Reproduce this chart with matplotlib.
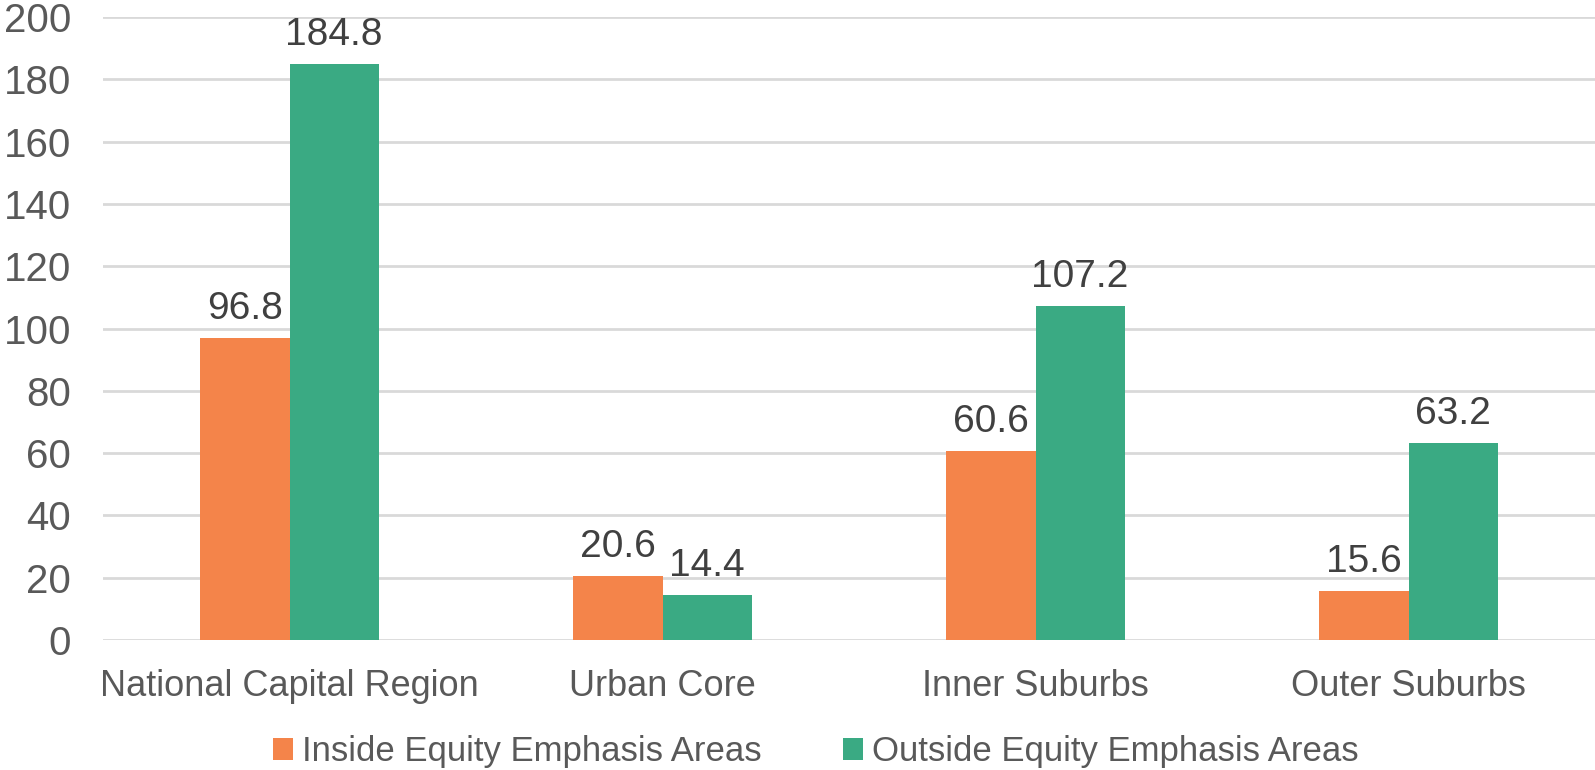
import matplotlib

matplotlib.use("Agg")
import matplotlib.pyplot as plt
import numpy as np

categories = ["National Capital Region", "Urban Core", "Inner Suburbs", "Outer Suburbs"]
inside = [96.8, 20.6, 60.6, 15.6]
outside = [184.8, 14.4, 107.2, 63.2]
series_names = ["Inside Equity Emphasis Areas", "Outside Equity Emphasis Areas"]

ORANGE = "#F4844A"
GREEN = "#3AAA83"
TICK = "#595959"
LABEL = "#404040"
GRID = "#D9D9D9"

FONT = ["Liberation Sans", "DejaVu Sans"]
plt.rcParams["font.family"] = FONT

fig = plt.figure(figsize=(15.95, 7.7), dpi=100)
ax = fig.add_axes((103 / 1595, 1 - 640 / 770, 1 - 103 / 1595, (640 - 17) / 770))

x = np.arange(len(categories))
w = 0.239
b1 = ax.bar(x - w / 2, inside, w, color=ORANGE, label=series_names[0], zorder=3)
b2 = ax.bar(x + w / 2, outside, w, color=GREEN, label=series_names[1], zorder=3)

for bars, vals in ((b1, inside), (b2, outside)):
    for r, v in zip(bars, vals):
        ax.annotate(f"{v:.1f}", xy=(r.get_x() + r.get_width() / 2, v),
                    xytext=(0, 8), textcoords="offset points",
                    ha="center", va="bottom", fontsize=28, color=LABEL)

ax.set_xlim(-0.5, len(categories) - 0.5)
ax.set_ylim(0, 200)
ax.set_yticks(range(0, 201, 20))
ax.yaxis.grid(True, color=GRID, linewidth=2)
ax.set_axisbelow(True)
for s in ax.spines.values():
    s.set_visible(False)
ax.tick_params(axis="both", length=0)
ax.tick_params(axis="y", pad=23, labelsize=29, labelcolor=TICK)
ax.tick_params(axis="x", pad=21, labelsize=26, labelcolor=TICK)
ax.set_xticks(x)
ax.set_xticklabels(categories)

fig.legend(handles=[b1, b2], loc="center", bbox_to_anchor=(0.5115, 1 - 752 / 770),
           ncol=2, frameon=False, handlelength=0.58, handleheight=0.58,
           handletextpad=0.26, columnspacing=2.36, borderpad=0,
           prop={"size": 25}, labelcolor=TICK)

fig.savefig("out.png", dpi=100, facecolor="white")
